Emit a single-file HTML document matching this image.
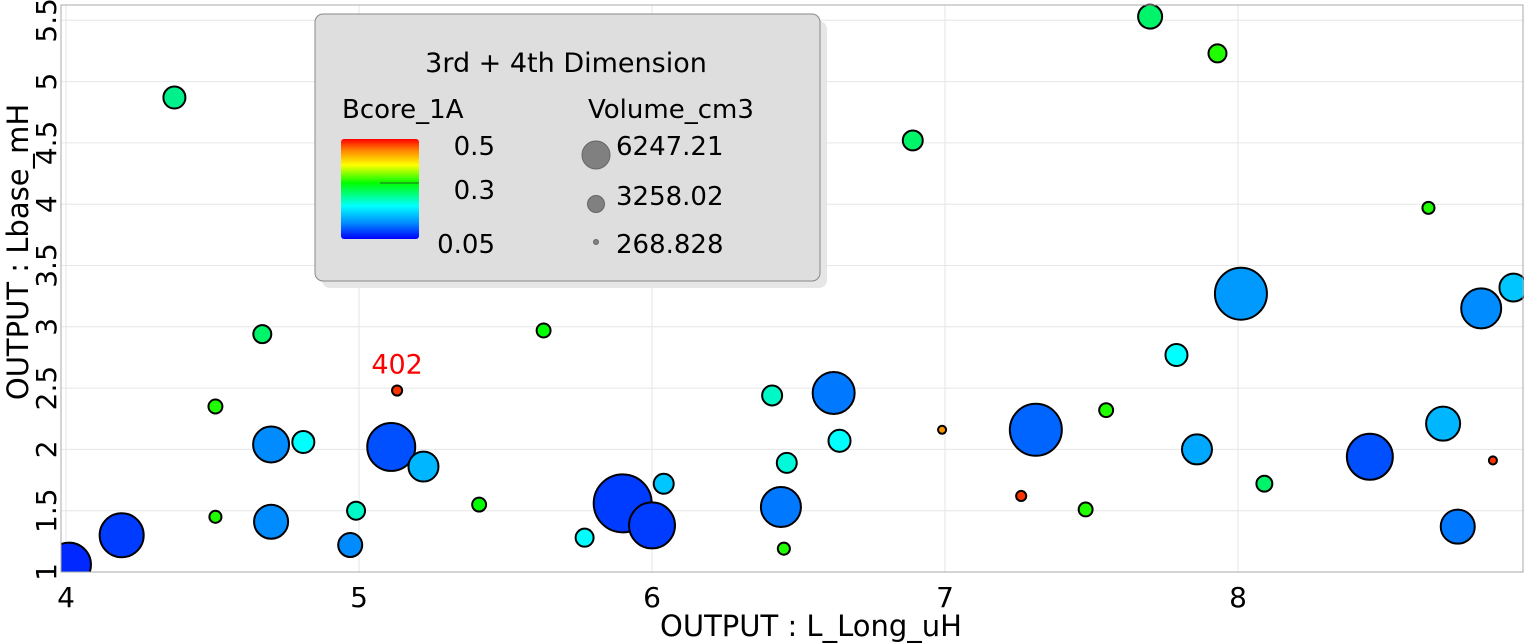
<!DOCTYPE html>
<html><head><meta charset="utf-8"><style>
body{margin:0;background:#fff;font-family:"Liberation Sans","DejaVu Sans",sans-serif}
svg{display:block}
</style></head><body>
<svg id="c" width="1524" height="643" font-family="DejaVu Sans, Liberation Sans, sans-serif">
<defs>
<linearGradient id="cb" x1="0" y1="1" x2="0" y2="0">
<stop offset="0" stop-color="#0000ff"/><stop offset="0.16" stop-color="#008cff"/><stop offset="0.33" stop-color="#00ffff"/><stop offset="0.56" stop-color="#00ff00"/><stop offset="0.74" stop-color="#ffff00"/><stop offset="0.89" stop-color="#ff8000"/><stop offset="1" stop-color="#ff0000"/>
</linearGradient>
</defs>
<g id="grid"></g>
<g id="marks"></g>
<g id="axes"></g>
<g>
<rect x="322" y="21" width="505" height="267" rx="8" fill="#e6e6e6"/>
<rect x="315" y="14" width="505" height="267" rx="8" fill="#dedede" stroke="#888" stroke-width="1"/>
<text x="566" y="72" text-anchor="middle" font-size="27">3rd + 4th Dimension</text>
<text x="342" y="118" font-size="26">Bcore_1A</text>
<rect x="341" y="139" width="78" height="100" rx="3" fill="url(#cb)"/>
<line x1="380" y1="183" x2="419" y2="183" stroke="#333" stroke-width="0.7"/>
<text x="495" y="155" text-anchor="end" font-size="26">0.5</text>
<text x="495" y="199" text-anchor="end" font-size="26">0.3</text>
<text x="495" y="253" text-anchor="end" font-size="26">0.05</text>
<text x="588" y="118" font-size="26">Volume_cm3</text>
<circle cx="596" cy="155" r="14" fill="#808080" stroke="#666"/>
<circle cx="596" cy="204" r="8.5" fill="#808080" stroke="#666"/>
<circle cx="596" cy="242" r="2.5" fill="#808080" stroke="#666"/>
<text x="616" y="155" font-size="26">6247.21</text>
<text x="616" y="205" font-size="26">3258.02</text>
<text x="616" y="253" font-size="26">268.828</text>
</g>
<text x="811" y="636" text-anchor="middle" font-size="29">OUTPUT : L_Long_uH</text>
<text transform="translate(28,252) rotate(-90)" text-anchor="middle" font-size="29">OUTPUT : Lbase_mH</text>
</svg>
<script>
const xVals=[4.01,4.19,4.37,4.51,4.51,4.67,4.70,4.81,4.70,4.99,4.97,5.11,5.13,5.22,5.41,5.63,5.77,5.90,6.00,6.04,6.41,6.46,6.45,6.44,6.62,6.64,6.89,6.99,7.26,7.31,7.48,7.55,7.70,7.79,7.86,7.93,8.01,8.09,8.45,8.65,8.70,8.75,8.83,8.87,8.94];
const yVals=[1.06,1.30,4.87,2.35,1.45,2.94,2.04,2.06,1.41,1.50,1.22,2.02,2.48,1.86,1.55,2.97,1.28,1.56,1.38,1.72,2.44,1.89,1.19,1.53,2.46,2.07,4.52,2.16,1.62,2.16,1.51,2.32,5.53,2.77,2.00,5.23,3.27,1.72,1.94,3.97,2.21,1.37,3.15,1.91,3.32];
const bVals=[0.07,0.08,0.26,0.31,0.31,0.27,0.12,0.2,0.12,0.23,0.12,0.09,0.48,0.15,0.3,0.3,0.2,0.08,0.08,0.16,0.23,0.22,0.31,0.11,0.11,0.2,0.27,0.44,0.48,0.1,0.31,0.31,0.27,0.2,0.14,0.31,0.13,0.27,0.09,0.31,0.15,0.11,0.12,0.48,0.16];
const volVals=[3600,3600,900,360,270,600,2400,900,2150,600,1070,4270,190,1670,360,360,600,6240,3920,740,740,740,270,2970,3270,900,740,120,190,5020,360,360,1070,900,1670,600,5020,470,3920,270,2150,2150,2970,120,1450];
const xTicks=[4,5,6,7,8];
const yTicks=[1,1.5,2,2.5,3,3.5,4,4.5,5,5.5];
const L=61,R=1524,T=5,B=572;
const xs=v=>66+(v-4)*293;
const ys=v=>572-(v-1)*122.6;
const rs=v=>0.367*Math.sqrt(v);
const stops=[[0.05,[0,0,255]],[0.12,[0,140,255]],[0.2,[0,255,255]],[0.26,[0,240,140]],[0.3,[0,255,0]],[0.38,[255,255,0]],[0.45,[255,128,0]],[0.5,[255,0,0]]];
function col(b){for(let i=0;i<stops.length-1;i++){const[a,ca]=stops[i],[c,cc]=stops[i+1];if(b<=c){const t=Math.max(0,(b-a)/(c-a));return 'rgb('+ca.map((q,k)=>Math.round(q+(cc[k]-q)*t)).join(',')+')';}}return 'rgb(255,0,0)';}
const NS='http://www.w3.org/2000/svg';
function mk(p,tag,at){const e=document.createElementNS(NS,tag);for(const k in at)e.setAttribute(k,at[k]);p.appendChild(e);return e;}
const g=document.getElementById('grid'),m=document.getElementById('marks'),ax=document.getElementById('axes');
xTicks.forEach(v=>{const l=mk(g,'line',{x1:xs(v),x2:xs(v),y1:T,y2:B,stroke:'#e6e6e6'});


const t=mk(ax,'text',{x:xs(v),y:607,'text-anchor':'middle','font-size':28});t.textContent=v;

});
yTicks.forEach(v=>{const l=mk(g,'line',{x1:L,x2:R,y1:ys(v),y2:ys(v),stroke:'#e6e6e6'});


const t=mk(ax,'text',{transform:'translate(56,'+ys(v)+') rotate(-90)','text-anchor':'middle','font-size':28});t.textContent=v;

});
mk(ax,'rect',{x:L,y:T,width:R-L-1,height:B-T,fill:'none',stroke:'#aaa'});
const clip=mk(document.querySelector('defs'),'clipPath',{id:'pc'});mk(clip,'rect',{x:L,y:0,width:R-L,height:B});
m.setAttribute('clip-path','url(#pc)');
xVals.forEach((x,i)=>{const c=mk(m,'circle',{cx:xs(x),cy:ys(yVals[i]),r:rs(volVals[i]),fill:col(bVals[i]),stroke:'#000','stroke-width':2});

});
const lb=mk(ax,'text',{x:xs(xVals[12]),y:ys(yVals[12])-17,'text-anchor':'middle','font-size':27,fill:'#ff0000'});lb.textContent='402';


</script>
</body></html>
